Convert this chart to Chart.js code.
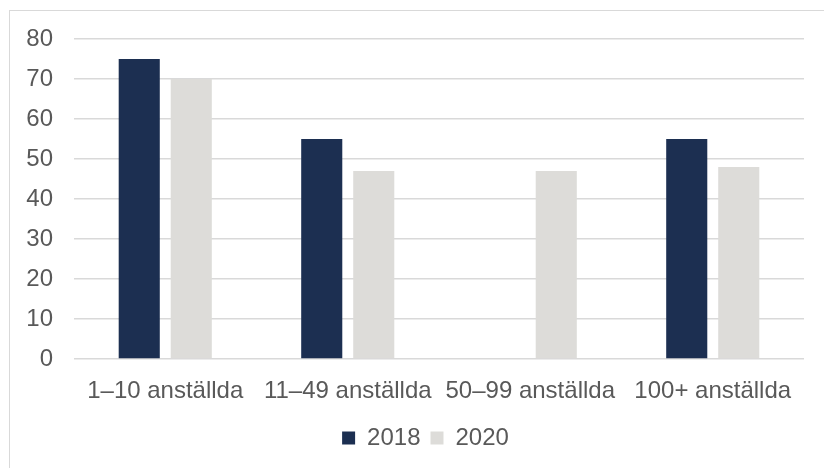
<!DOCTYPE html>
<html>
<head>
<meta charset="utf-8">
<script src="https://cdn.jsdelivr.net/npm/chart.js@4"></script>
<style>
    html, body { margin: 0; padding: 0; background: #fff; overflow: hidden; }
    #wrap { position: relative; width: 824px; height: 468px; }
    #frame {
        position: absolute; left: 9px; top: 10px; width: 900px; height: 500px;
        border-left: 1px solid #d9d9d9; border-top: 1px solid #d9d9d9;
    }
    canvas { position: absolute; left: 0; top: 0; }
</style>
</head>
<body>
<div id="wrap">
    <div id="frame"></div>
    <canvas id="barChart" width="824" height="468"></canvas>
</div>
<script>
// Andel per företagsstorlek, 2018 och 2020
const categories = ['1–10 anställda', '11–49 anställda', '50–99 anställda', '100+ anställda'];
const values2018 = [75, 55, null, 55];
const values2020 = [70, 47, 47, 48];
const yTicks = [0, 10, 20, 30, 40, 50, 60, 70, 80];

const textColor = '#595959';
const font = { family: '"Liberation Sans", Arial, sans-serif', size: 24 };

Chart.defaults.font.family = font.family;
Chart.defaults.color = textColor;

// legend sits centred on the outer frame, not on the canvas
const legendShift = {
    id: 'legendShift',
    afterLayout(chart) {
        if (chart.legend) {
            chart.legend.left += 27;
        }
    }
};

const ctx = document.getElementById('barChart').getContext('2d');

new Chart(ctx, {
    type: 'bar',
    data: {
        labels: categories,
        datasets: [{
            label: '2018',
            data: values2018,
            backgroundColor: '#1c2f51',
            categoryPercentage: 0.57,
            barPercentage: 0.79,
        }, {
            label: '2020',
            data: values2020,
            backgroundColor: '#dddcd9',
            categoryPercentage: 0.57,
            barPercentage: 0.79,
        }]
    },
    options: {
        responsive: false,
        animation: false,
        layout: {
            padding: { left: 20, right: 20, top: 39, bottom: 8 }
        },
        scales: {
            x: {
                grid: { display: false },
                border: { display: false },
                ticks: { font: font, color: textColor, padding: 10, maxRotation: 0, autoSkip: false },
                afterFit: (scale) => { scale.height = 57; }
            },
            y: {
                min: 0,
                max: 80,
                afterBuildTicks: (scale) => {
                    scale.ticks = yTicks.map(v => ({ value: v }));
                },
                grid: { color: '#d9d9d9', lineWidth: 1.5, drawTicks: false },
                border: { display: false },
                ticks: { font: font, color: textColor, padding: 21 },
                afterFit: (scale) => { scale.width = 54; }
            }
        },
        plugins: {
            legend: {
                position: 'bottom',
                labels: {
                    boxWidth: 13,
                    boxHeight: 13,
                    padding: 10,
                    font: font,
                    color: textColor
                }
            },
            tooltip: { enabled: false }
        }
    },
    plugins: [legendShift]
});
</script>
</body>
</html>
